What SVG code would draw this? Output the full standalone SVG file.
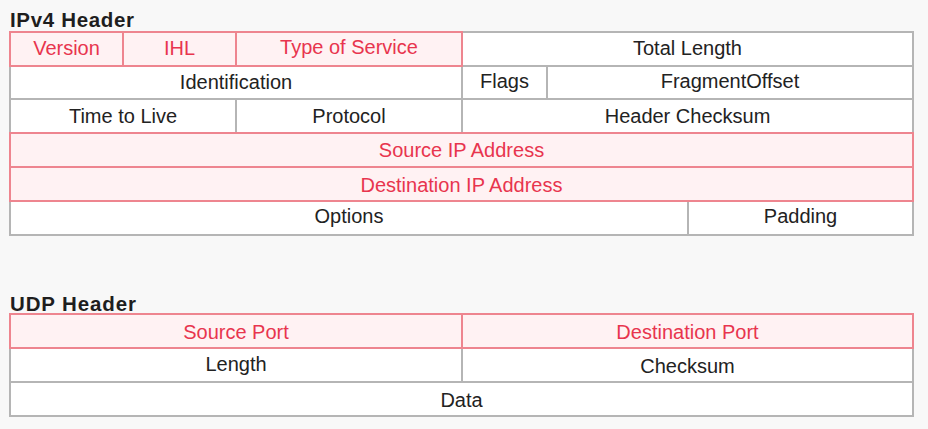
<svg xmlns="http://www.w3.org/2000/svg" width="928" height="429" viewBox="0 0 928 429">
<style>
.g rect{fill:#ffffff;stroke:#b5b5b5;stroke-width:2}
.r rect{fill:#fff2f3;stroke:#ee858f;stroke-width:2}
text{font-family:"Liberation Sans",Arial,sans-serif;font-size:20px;text-anchor:middle}
.g text{fill:#222222}
.r text{fill:#e8354e}
.t{font-weight:bold;text-anchor:start;fill:#1e1e1e;font-size:20.5px}
</style>
<rect x="0" y="0" width="928" height="429" fill="#f8f8f8"/>
<text class="t" x="10" y="27" textLength="124" lengthAdjust="spacing">IPv4 Header</text>
<g id="ipv4">
<g class="g" id="total-length"><rect x="462" y="32" width="451" height="34"/><text x="687.5" y="55">Total Length</text></g>
<g class="g" id="identification"><rect x="10" y="66" width="452" height="33"/><text x="236" y="89">Identification</text></g>
<g class="g" id="flags"><rect x="462" y="66" width="85" height="33"/><text x="504.5" y="88">Flags</text></g>
<g class="g" id="fragment-offset"><rect x="547" y="66" width="366" height="33"/><text x="730" y="88">FragmentOffset</text></g>
<g class="g" id="ttl"><rect x="10" y="99" width="226" height="34"/><text x="123" y="123">Time to Live</text></g>
<g class="g" id="protocol"><rect x="236" y="99" width="226" height="34"/><text x="349" y="123">Protocol</text></g>
<g class="g" id="header-checksum"><rect x="462" y="99" width="451" height="34"/><text x="687.5" y="123">Header Checksum</text></g>
<g class="g" id="options"><rect x="10" y="201" width="678" height="34"/><text x="349" y="223">Options</text></g>
<g class="g" id="padding"><rect x="688" y="201" width="225" height="34"/><text x="800.5" y="223">Padding</text></g>
<g class="r" id="version"><rect x="10" y="32" width="113" height="34"/><text x="66.5" y="55">Version</text></g>
<g class="r" id="ihl"><rect x="123" y="32" width="113" height="34"/><text x="179.5" y="55">IHL</text></g>
<g class="r" id="tos"><rect x="236" y="32" width="226" height="34"/><text x="349" y="54">Type of Service</text></g>
<g class="r" id="source-ip"><rect x="10" y="133" width="903" height="34"/><text x="461.5" y="157">Source IP Address</text></g>
<g class="r" id="dest-ip"><rect x="10" y="167" width="903" height="34"/><text x="461.5" y="192">Destination IP Address</text></g>
</g>
<text class="t" x="10" y="311" textLength="126" lengthAdjust="spacing">UDP Header</text>
<g id="udp">
<g class="g" id="length"><rect x="10" y="348" width="452" height="34"/><text x="236" y="371">Length</text></g>
<g class="g" id="checksum"><rect x="462" y="348" width="451" height="34"/><text x="687.5" y="373">Checksum</text></g>
<g class="g" id="data"><rect x="10" y="382" width="903" height="34"/><text x="461.5" y="407">Data</text></g>
<g class="r" id="source-port"><rect x="10" y="314" width="452" height="34"/><text x="236" y="339">Source Port</text></g>
<g class="r" id="dest-port"><rect x="462" y="314" width="451" height="34"/><text x="687.5" y="339">Destination Port</text></g>
</g>
<g id="connectors"/>
</svg>
